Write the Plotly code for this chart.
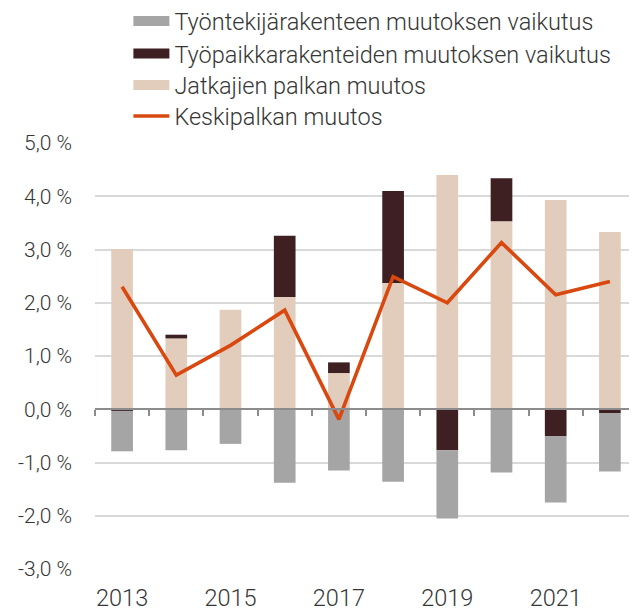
import plotly.graph_objects as go

years = [2013, 2014, 2015, 2016, 2017, 2018, 2019, 2020, 2021, 2022]
tyontekija = [-0.76, -0.77, -0.65, -1.38, -1.15, -1.36, -1.28, -1.19, -1.24, -1.10]
tyopaikka = [-0.03, 0.07, 0.0, 1.15, 0.20, 1.73, -0.77, 0.81, -0.51, -0.07]
jatkajat = [3.01, 1.33, 1.87, 2.11, 0.68, 2.37, 4.40, 3.53, 3.93, 3.33]
keskipalkka = [2.30, 0.64, 1.20, 1.86, -0.19, 2.49, 2.00, 3.13, 2.15, 2.40]

names = ["Työntekijärakenteen muutoksen vaikutus",
         "Työpaikkarakenteiden muutoksen vaikutus",
         "Jatkajien palkan muutos",
         "Keskipalkan muutos"]
colors = ["#A5A5A5", "#3E2022", "#E2CDBC", "#D9480F"]

yticks = [-3, -2, -1, 0, 1, 2, 3, 4, 5]
ytext = [f"{v:.1f} %".replace(".", ",") for v in yticks]
xlabels = [2013, 2015, 2017, 2019, 2021]

txt = "#363636"
legend_y = [1.2857, 1.2096, 1.1354, 1.0627]
legend_ids = ["legend", "legend2", "legend3", "legend4"]

fig = go.Figure()
# bars (order chosen so relative stacking matches)
for vals, nm, col in [(jatkajat, names[2], colors[2]),
                      (tyopaikka, names[1], colors[1]),
                      (tyontekija, names[0], colors[0])]:
    fig.add_trace(go.Bar(x=years, y=vals, name=nm, marker_color=col,
                         marker_line_width=0, width=0.4, showlegend=False,
                         xaxis="x", yaxis="y"))
fig.add_trace(go.Scatter(x=years, y=keskipalkka, name=names[3], mode="lines",
                         line=dict(color=colors[3], width=3.6), showlegend=False,
                         xaxis="x2", yaxis="y"))

# legend entries
for i, (nm, col) in enumerate(zip(names, colors)):
    fig.add_trace(go.Scatter(x=[None], y=[None], name=nm, mode="lines",
                             line=dict(color=col, width=12.7 if i < 3 else 3.6),
                             legend=legend_ids[i], showlegend=True,
                             xaxis="x", yaxis="y"))

xr = [years[0] - 0.5, years[-1] + 0.5]
bounds = [y - 0.5 for y in years] + [years[-1] + 0.5]

legends = {}
for lid, ly in zip(legend_ids, legend_y):
    legends[lid] = dict(x=0.0616, y=ly, xanchor="left", yanchor="middle",
                        font=dict(family="Roboto", size=23.5, color=txt, weight=300),
                        itemwidth=36, bgcolor="rgba(0,0,0,0)")

fig.update_layout(
    width=629, height=602,
    margin=dict(l=87, r=0, t=135, b=41, autoexpand=False),
    plot_bgcolor="white", paper_bgcolor="white",
    barmode="relative",
    font=dict(family="Roboto", size=21, color=txt, weight=300),
    showlegend=True,
    xaxis=dict(range=xr, tickvals=xlabels, ticktext=[str(v) for v in xlabels],
               showgrid=False, zeroline=False, showline=False, ticks="",
               ticklabelstandoff=12,
               tickfont=dict(family="Roboto", size=23.5, color=txt, weight=300)),
    xaxis2=dict(range=xr, overlaying="x", anchor="free", position=0.375,
                side="bottom", showline=True, linecolor="#8c8c8c", linewidth=2,
                ticks="outside", ticklen=6, tickwidth=2, tickcolor="#8c8c8c",
                tickvals=bounds, showticklabels=False, showgrid=False, zeroline=False),
    yaxis=dict(range=[-3, 5], tickvals=yticks, ticktext=ytext,
               showgrid=True, gridcolor="#D9D9D9", gridwidth=1.5, zeroline=False,
               showline=False, ticks="", ticklabelstandoff=22,
               tickfont=dict(family="Roboto", size=21, color=txt, weight=300)),
    **legends,
)

fig.write_html("out.html")
